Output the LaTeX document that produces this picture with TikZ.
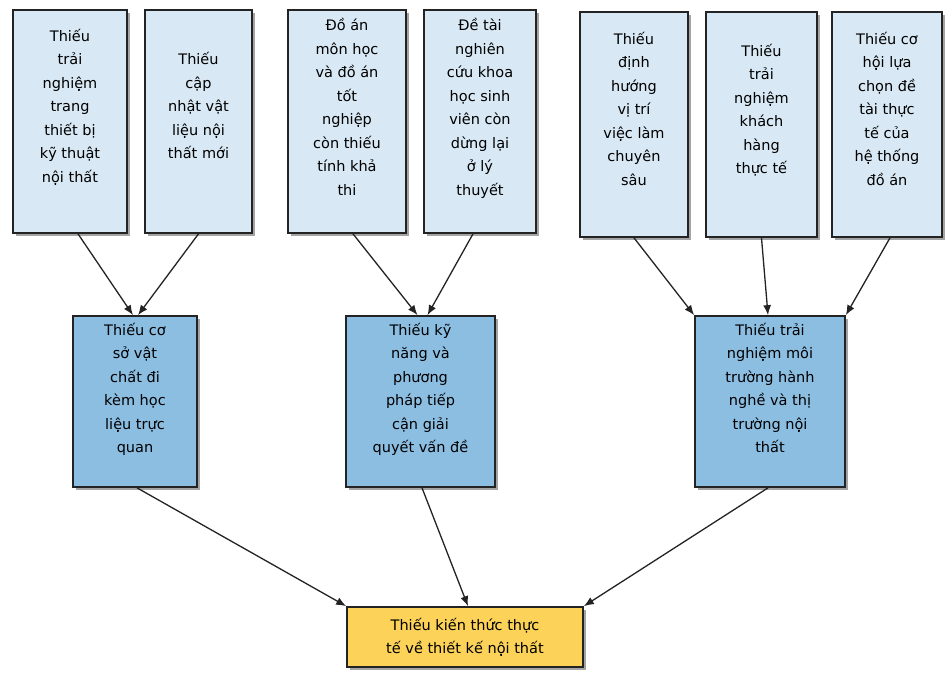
\documentclass[tikz,border=0pt]{standalone}
\usepackage{fontspec}
\setmainfont{DejaVu Sans}
\usetikzlibrary{arrows.meta,shadows}
\definecolor{paleblue}{RGB}{216,232,244}
\definecolor{midblue}{RGB}{140,190,226}
\definecolor{rootyellow}{RGB}{252,210,88}
\definecolor{edgegray}{RGB}{35,35,35}

\begin{document}
\begin{tikzpicture}[
      x=1pt, y=-1pt,
      box/.style={draw=edgegray, line width=1.7pt, align=center, inner sep=0pt,
        font=\fontsize{14.5}{23.5}\selectfont,
        drop shadow={shadow xshift=3pt, shadow yshift=-3pt, fill=black!65, opacity=.55}},
      topbox/.style={box, fill=paleblue, minimum height=223},
      midbox/.style={box, fill=midblue, minimum height=171, minimum width=#1},
      rootbox/.style={box, fill=rootyellow, minimum width=236, minimum height=60},
      link/.style={draw=edgegray, line width=1.3pt, -{Latex[length=10pt,width=8pt]}}
    ]
      \useasboundingbox (0,0) rectangle (951,679);

      \node[topbox, minimum width=114] (t1) at (70,121.5) {Thiếu\\trải\\nghiệm\\trang\\thiết bị\\kỹ thuật\\nội thất\\[8pt]};
      \node[topbox, minimum width=107] (t2) at (198.5,121.5) {Thiếu\\cập\\nhật vật\\liệu nội\\thất mới\\[8pt]};
      \node[topbox, minimum width=118] (t3) at (347,121.5) {Đồ án\\môn học\\và đồ án\\tốt\\nghiệp\\còn thiếu\\tính khả\\thi\\[6pt]};
      \node[topbox, minimum width=112] (t4) at (480,121.5) {Đề tài\\nghiên\\cứu khoa\\học sinh\\viên còn\\dừng lại\\ở lý\\thuyết\\[6pt]};
      \node[topbox, minimum width=108, minimum height=225] (t5) at (634,124.5) {Thiếu\\định\\hướng\\vị trí\\việc làm\\chuyên\\sâu\\[8pt]};
      \node[topbox, minimum width=111, minimum height=225] (t6) at (761.5,124.5) {Thiếu\\trải\\nghiệm\\khách\\hàng\\thực tế\\[8pt]};
      \node[topbox, minimum width=110, minimum height=225] (t7) at (887,124.5) {Thiếu cơ\\hội lựa\\chọn đề\\tài thực\\tế của\\hệ thống\\đồ án\\[8pt]};

      \node[midbox=124] (m1) at (135,401.5) {Thiếu cơ\\sở vật\\chất đi\\kèm học\\liệu trực\\quan\\[4pt]};
      \node[midbox=149] (m2) at (420.5,401.5) {Thiếu kỹ\\năng và\\phương\\pháp tiếp\\cận giải\\quyết vấn đề\\[4pt]};
      \node[midbox=150] (m3) at (770,401.5) {Thiếu trải\\nghiệm môi\\trường hành\\nghề và thị\\trường nội\\thất\\[4pt]};

      \node[rootbox] (root) at (465,637) {Thiếu kiến thức thực\\tế về thiết kế nội thất};

      \draw[link] ([xshift=8]t1.south) -- ([xshift=-2]m1.north);
      \draw[link] (t2.south) -- ([xshift=3]m1.north);
      \draw[link] ([xshift=6]t3.south) -- ([xshift=-3]m2.north);
      \draw[link] ([xshift=-7]t4.south) -- ([xshift=7]m2.north);
      \draw[link] (t5.south) -- (m3.north west);
      \draw[link] (t6.south) -- ([xshift=-2]m3.north);
      \draw[link] ([xshift=3]t7.south) -- (m3.north east);

      \draw[link] ([xshift=2]m1.south) -- (root.north west);
      \draw[link] ([xshift=1.5]m2.south) -- ([xshift=3]root.north);
      \draw[link] ([xshift=-2]m3.south) -- (root.north east);
\end{tikzpicture}
\end{document}
